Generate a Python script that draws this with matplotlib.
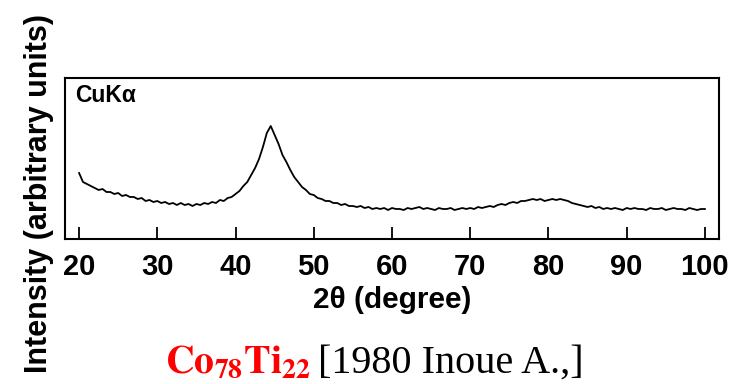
import numpy as np
import matplotlib
matplotlib.use("Agg")
import matplotlib.pyplot as plt

# XRD scan, 0.5 deg step from 20 to 100 (2theta)
scan_start = 20.0
scan_step = 0.5
intensity = [
    66, 57, 55, 53, 51, 49, 50, 47, 47, 45, 46, 43, 44, 42, 42, 40, 41, 38, 39, 37,
    38, 36, 37, 35, 36, 34, 36, 34, 35, 33, 35, 34, 36, 35, 37, 36, 39, 38, 41, 42,
    45, 48, 53, 57, 64, 71, 80, 92, 106, 113, 104, 95, 84, 77, 69, 62, 57, 52, 49, 45,
    44, 41, 40, 38, 38, 36, 36, 34, 35, 33, 33, 32, 33, 31, 32, 30, 31, 30, 31, 29,
    31, 30, 30, 29, 31, 30, 31, 32, 30, 31, 30, 29, 31, 30, 30, 31, 29, 30, 31, 30,
    31, 30, 32, 31, 32, 33, 32, 34, 35, 34, 36, 37, 36, 38, 38, 39, 40, 39, 40, 38,
    39, 40, 39, 40, 39, 38, 36, 35, 34, 33, 32, 33, 31, 32, 30, 31, 30, 31, 30, 29,
    31, 30, 31, 30, 30, 29, 31, 30, 30, 31, 29, 30, 31, 30, 30, 29, 31, 30, 29, 30,
    30,
]
two_theta = scan_start + scan_step * np.arange(len(intensity))

xticks = [20, 30, 40, 50, 60, 70, 80, 90, 100]

sans = "Liberation Sans"

fig = plt.figure(figsize=(7.42, 3.84), dpi=100)
ax = fig.add_axes([0.0876, 0.3776, 0.8814, 0.4193])

ax.plot(two_theta, intensity, color="black", lw=1.3)
ax.set_xlim(18.2, 101.8)
ax.set_ylim(0, 161)
ax.set_yticks([])
ax.set_xticks(xticks)
ax.set_xticklabels([str(t) for t in xticks], fontsize=21, fontweight="bold", family=sans)
ax.tick_params(axis="x", direction="in", length=9, width=1.3, pad=10)
for s in ax.spines.values():
    s.set_linewidth(1.5)

ax.text(0.016, 0.965, "CuK\u03b1", transform=ax.transAxes, ha="left", va="top",
        fontsize=16.5, fontweight="bold", family=sans)

ax.set_xlabel("2\u03b8 (degree)", fontsize=21.5, fontweight="bold", family=sans, labelpad=4)

fig.text(0.053, 0.497, "Intensity (arbitrary units)", rotation=90, ha="center", va="center",
         fontsize=22, fontweight="bold", family=sans)

plt.rcParams["mathtext.fontset"] = "stix"
fig.text(0.222, 0.029, r"$\mathbf{Co_{78}Ti_{22}}$", color="red", fontsize=28.5,
         ha="left", va="baseline")
fig.text(0.4286, 0.029, "[1980 Inoue A.,]", color="black", fontsize=29,
         family="Liberation Serif", ha="left", va="baseline")

fig.savefig("out.png", dpi=100)
